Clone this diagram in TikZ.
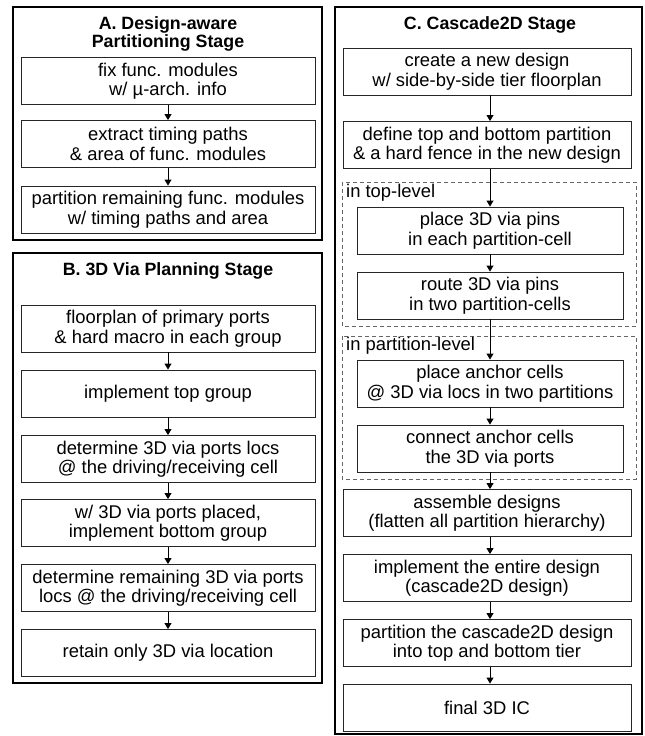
\documentclass[tikz,border=0pt]{standalone}
\usepackage{fontspec}
\setmainfont{Liberation Sans}
\usetikzlibrary{arrows.meta}
\begin{document}
\begin{tikzpicture}[x=1pt,y=-1pt,
  stepbox/.style={draw=black!85, line width=0.9pt, minimum height=47pt, align=center, inner sep=0pt, font=\fontsize{18.4}{19.5}\selectfont},
  boxA/.style={stepbox, minimum width=294pt},
  boxC/.style={stepbox, minimum width=288pt},
  boxCi/.style={stepbox, minimum width=266pt},
  panel/.style={draw=black, line width=2.6pt},
  grp/.style={draw=black!60, dash pattern=on 4pt off 3pt, line width=0.9pt},
  grplabel/.style={anchor=west, inner sep=0pt, font=\fontsize{18.4}{19.5}\selectfont},
  arr/.style={-{Triangle[length=6pt,width=7pt]}, line width=0.9pt},
  title/.style={align=center, inner sep=0pt, font=\bfseries\fontsize{17.8}{17.5}\selectfont}
]
\useasboundingbox (0,0) rectangle (645,736);

% Panel A
\draw[panel] (13,7) rectangle (322,240);
\node[title] (tA) at (168,34) {A. Design-aware\\Partitioning Stage};
\node[boxA] (a1) at (168,81) {fix func. modules\\w/ µ-arch. info};
\node[boxA] (a2) at (168,144) {extract timing paths\\\& area of func. modules};
\node[boxA] (a3) at (168,209.5) {partition remaining func. modules\\w/ timing paths and area};
\draw[arr] (a1) -- (a2);
\draw[arr] (a2) -- (a3);

% Panel B
\draw[panel] (13,253) rectangle (322,683);
\node[title] (tB) at (168,271) {B. 3D Via Planning Stage};
\node[boxA] (b1) at (168,328.5) {floorplan of primary ports\\\& hard macro in each group};
\node[boxA] (b2) at (168,393.5) {implement top group};
\node[boxA] (b3) at (168,459) {determine 3D via ports locs\\@ the driving/receiving cell};
\node[boxA] (b4) at (168,523) {w/ 3D via ports placed,\\implement bottom group};
\node[boxA] (b5) at (168,588) {determine remaining 3D via ports\\locs @ the driving/receiving cell};
\node[boxA] (b6) at (168,653) {retain only 3D via location};
\draw[arr] (b1) -- (b2);
\draw[arr] (b2) -- (b3);
\draw[arr] (b3) -- (b4);
\draw[arr] (b4) -- (b5);
\draw[arr] (b5) -- (b6);

% Panel C
\draw[panel] (335,7) rectangle (642,734);
\node[title] (tC) at (490,25) {C. Cascade2D Stage};
\node[boxC] (c1) at (487,71.5) {create a new design\\w/ side-by-side tier floorplan};
\node[boxC] (c2) at (487,145) {define top and bottom partition\\\& a hard fence in the new design};
\draw[grp] (342,182) rectangle (636,326);
\node[grplabel] (g1) at (346,193) {in top-level};
\node[boxCi] (c3) at (490,230.5) {place 3D via pins\\in each partition-cell};
\node[boxCi] (c4) at (490,295.5) {route 3D via pins\\in two partition-cells};
\draw[grp] (342,336) rectangle (636,479);
\node[grplabel] (g2) at (346,346) {in partition-level};
\node[boxCi] (c5) at (490,383.5) {place anchor cells\\@ 3D via locs in two partitions};
\node[boxCi] (c6) at (490,448.5) {connect anchor cells\\the 3D via ports};
\node[boxC] (c7) at (487,513) {assemble designs\\(flatten all partition hierarchy)};
\node[boxC] (c8) at (487,578) {implement the entire design\\(cascade2D design)};
\node[boxC] (c9) at (487,643) {partition the cascade2D design\\into top and bottom tier};
\node[boxC] (c10) at (487,707.5) {final 3D IC};
\draw[arr] ([xshift=3pt]c1.south) -- ([xshift=3pt]c2.north);
\draw[arr] ([xshift=3pt]c2.south) -- (c3.north);
\draw[arr] (c3) -- (c4);
\draw[arr] (c4) -- (c5);
\draw[arr] (c5) -- (c6);
\draw[arr] (c6.south) -- ([xshift=3pt]c7.north);
\draw[arr] ([xshift=3pt]c7.south) -- ([xshift=3pt]c8.north);
\draw[arr] ([xshift=3pt]c8.south) -- ([xshift=3pt]c9.north);
\draw[arr] ([xshift=3pt]c9.south) -- ([xshift=3pt]c10.north);
\end{tikzpicture}
\end{document}
